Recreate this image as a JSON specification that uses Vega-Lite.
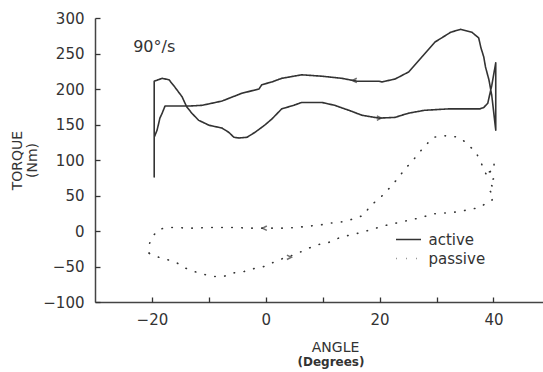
{
  "$schema": "https://vega.github.io/schema/vega-lite/v6.json",
  "width": 448,
  "height": 284,
  "autosize": {"type": "none"},
  "padding": {"left": 95, "top": 18, "right": 0, "bottom": 70},
  "background": "white",
  "config": {
    "view": {"stroke": null},
    "font": "DejaVu Sans",
    "axis": {
      "domainColor": "#444",
      "domainWidth": 1.5,
      "tickColor": "#333",
      "tickWidth": 1.3,
      "grid": false,
      "labelFont": "DejaVu Sans",
      "labelFontSize": 15,
      "labelColor": "#333",
      "titleFont": "DejaVu Sans",
      "titleColor": "#333",
      "titleFontWeight": "normal"
    }
  },
  "title": {
    "text": "(Degrees)",
    "orient": "bottom",
    "anchor": "middle",
    "fontSize": 12,
    "fontWeight": "bold",
    "color": "#333",
    "dx": 12,
    "offset": 3
  },
  "resolve": {"axis": {"x": "independent", "y": "independent"}},
  "datasets": {
    "curves": [
      {"s": "active", "i": 1, "x": -19.6, "y": 76},
      {"s": "active", "i": 2, "x": -19.6, "y": 211},
      {"s": "active", "i": 3, "x": -18.2, "y": 215},
      {"s": "active", "i": 4, "x": -17.0, "y": 213},
      {"s": "active", "i": 5, "x": -16.0, "y": 203},
      {"s": "active", "i": 6, "x": -14.7, "y": 189},
      {"s": "active", "i": 7, "x": -13.9, "y": 175},
      {"s": "active", "i": 8, "x": -13.0, "y": 166},
      {"s": "active", "i": 9, "x": -11.8, "y": 156},
      {"s": "active", "i": 10, "x": -10.0, "y": 149},
      {"s": "active", "i": 11, "x": -7.7, "y": 145},
      {"s": "active", "i": 12, "x": -6.5, "y": 139},
      {"s": "active", "i": 13, "x": -5.6, "y": 132},
      {"s": "active", "i": 14, "x": -4.7, "y": 131},
      {"s": "active", "i": 15, "x": -3.3, "y": 132},
      {"s": "active", "i": 16, "x": -1.9, "y": 139},
      {"s": "active", "i": 17, "x": -0.2, "y": 149},
      {"s": "active", "i": 18, "x": 1.1, "y": 158},
      {"s": "active", "i": 19, "x": 2.8, "y": 172},
      {"s": "active", "i": 20, "x": 4.9, "y": 177},
      {"s": "active", "i": 21, "x": 6.3, "y": 181},
      {"s": "active", "i": 22, "x": 9.9, "y": 181},
      {"s": "active", "i": 23, "x": 12.1, "y": 177},
      {"s": "active", "i": 24, "x": 14.6, "y": 170},
      {"s": "active", "i": 25, "x": 16.9, "y": 163},
      {"s": "active", "i": 26, "x": 19.9, "y": 159},
      {"s": "active", "i": 27, "x": 22.7, "y": 160},
      {"s": "active", "i": 28, "x": 25.1, "y": 166},
      {"s": "active", "i": 29, "x": 27.9, "y": 170},
      {"s": "active", "i": 30, "x": 32.1, "y": 172},
      {"s": "active", "i": 31, "x": 37.6, "y": 172},
      {"s": "active", "i": 32, "x": 38.3, "y": 174},
      {"s": "active", "i": 33, "x": 39.0, "y": 180},
      {"s": "active", "i": 34, "x": 39.7, "y": 205},
      {"s": "active", "i": 35, "x": 40.4, "y": 237},
      {"s": "active", "i": 36, "x": 40.4, "y": 142},
      {"s": "active", "i": 37, "x": 39.7, "y": 191},
      {"s": "active", "i": 38, "x": 39.2, "y": 213},
      {"s": "active", "i": 39, "x": 38.6, "y": 231},
      {"s": "active", "i": 40, "x": 38.3, "y": 245},
      {"s": "active", "i": 41, "x": 37.8, "y": 258},
      {"s": "active", "i": 42, "x": 37.4, "y": 272},
      {"s": "active", "i": 43, "x": 36.2, "y": 280},
      {"s": "active", "i": 44, "x": 34.2, "y": 284},
      {"s": "active", "i": 45, "x": 32.5, "y": 280},
      {"s": "active", "i": 46, "x": 29.7, "y": 266},
      {"s": "active", "i": 47, "x": 27.4, "y": 245},
      {"s": "active", "i": 48, "x": 25.1, "y": 224},
      {"s": "active", "i": 49, "x": 22.7, "y": 214},
      {"s": "active", "i": 50, "x": 20.4, "y": 210},
      {"s": "active", "i": 51, "x": 19.9, "y": 211},
      {"s": "active", "i": 52, "x": 16.0, "y": 211},
      {"s": "active", "i": 53, "x": 13.4, "y": 215},
      {"s": "active", "i": 54, "x": 9.9, "y": 218},
      {"s": "active", "i": 55, "x": 6.3, "y": 220},
      {"s": "active", "i": 56, "x": 2.8, "y": 215},
      {"s": "active", "i": 57, "x": 1.1, "y": 210},
      {"s": "active", "i": 58, "x": -0.7, "y": 206},
      {"s": "active", "i": 59, "x": -1.2, "y": 200},
      {"s": "active", "i": 60, "x": -4.2, "y": 194},
      {"s": "active", "i": 61, "x": -7.7, "y": 183},
      {"s": "active", "i": 62, "x": -11.2, "y": 177},
      {"s": "active", "i": 63, "x": -13.5, "y": 176},
      {"s": "active", "i": 64, "x": -16.0, "y": 176},
      {"s": "active", "i": 65, "x": -17.7, "y": 176},
      {"s": "active", "i": 66, "x": -18.2, "y": 166},
      {"s": "active", "i": 67, "x": -18.6, "y": 159},
      {"s": "active", "i": 68, "x": -18.8, "y": 152},
      {"s": "active", "i": 69, "x": -19.1, "y": 142},
      {"s": "active", "i": 70, "x": -19.6, "y": 132},
      {"s": "passive", "i": 1, "x": -20.5, "y": -31.5},
      {"s": "passive", "i": 2, "x": -18.8, "y": -37},
      {"s": "passive", "i": 3, "x": -17.0, "y": -41},
      {"s": "passive", "i": 4, "x": -15.6, "y": -45},
      {"s": "passive", "i": 5, "x": -14.2, "y": -52},
      {"s": "passive", "i": 6, "x": -12.6, "y": -57},
      {"s": "passive", "i": 7, "x": -10.9, "y": -61},
      {"s": "passive", "i": 8, "x": -9.1, "y": -64},
      {"s": "passive", "i": 9, "x": -7.4, "y": -64},
      {"s": "passive", "i": 10, "x": -5.6, "y": -59},
      {"s": "passive", "i": 11, "x": -3.8, "y": -57},
      {"s": "passive", "i": 12, "x": -2.1, "y": -53},
      {"s": "passive", "i": 13, "x": -0.3, "y": -50},
      {"s": "passive", "i": 14, "x": 1.4, "y": -44},
      {"s": "passive", "i": 15, "x": 3.2, "y": -38},
      {"s": "passive", "i": 16, "x": 4.1, "y": -36},
      {"s": "passive", "i": 17, "x": 6.0, "y": -30},
      {"s": "passive", "i": 18, "x": 7.6, "y": -24},
      {"s": "passive", "i": 19, "x": 9.3, "y": -19},
      {"s": "passive", "i": 20, "x": 11.1, "y": -16},
      {"s": "passive", "i": 21, "x": 12.8, "y": -10},
      {"s": "passive", "i": 22, "x": 14.6, "y": -6},
      {"s": "passive", "i": 23, "x": 16.3, "y": -3},
      {"s": "passive", "i": 24, "x": 18.1, "y": 1},
      {"s": "passive", "i": 25, "x": 19.8, "y": 5},
      {"s": "passive", "i": 26, "x": 21.6, "y": 9},
      {"s": "passive", "i": 27, "x": 23.4, "y": 12},
      {"s": "passive", "i": 28, "x": 25.6, "y": 16},
      {"s": "passive", "i": 29, "x": 27.4, "y": 19},
      {"s": "passive", "i": 30, "x": 29.2, "y": 24},
      {"s": "passive", "i": 31, "x": 30.9, "y": 25},
      {"s": "passive", "i": 32, "x": 32.7, "y": 26},
      {"s": "passive", "i": 33, "x": 34.4, "y": 28},
      {"s": "passive", "i": 34, "x": 36.2, "y": 31},
      {"s": "passive", "i": 35, "x": 37.6, "y": 33},
      {"s": "passive", "i": 36, "x": 39.2, "y": 42},
      {"s": "passive", "i": 37, "x": 39.7, "y": 43},
      {"s": "passive", "i": 38, "x": 40.1, "y": 50},
      {"s": "passive", "i": 39, "x": 39.3, "y": 57},
      {"s": "passive", "i": 40, "x": 40.1, "y": 60},
      {"s": "passive", "i": 41, "x": 39.2, "y": 69},
      {"s": "passive", "i": 42, "x": 40.1, "y": 74},
      {"s": "passive", "i": 43, "x": 39.2, "y": 83},
      {"s": "passive", "i": 44, "x": 40.1, "y": 86},
      {"s": "passive", "i": 45, "x": 40.1, "y": 95},
      {"s": "passive", "i": 46, "x": 39.0, "y": 76},
      {"s": "passive", "i": 47, "x": 38.3, "y": 86},
      {"s": "passive", "i": 48, "x": 37.8, "y": 97},
      {"s": "passive", "i": 49, "x": 36.9, "y": 111},
      {"s": "passive", "i": 50, "x": 35.6, "y": 121},
      {"s": "passive", "i": 51, "x": 34.2, "y": 131},
      {"s": "passive", "i": 52, "x": 32.6, "y": 134},
      {"s": "passive", "i": 53, "x": 30.9, "y": 134},
      {"s": "passive", "i": 54, "x": 29.5, "y": 132},
      {"s": "passive", "i": 55, "x": 28.1, "y": 121},
      {"s": "passive", "i": 56, "x": 26.9, "y": 110},
      {"s": "passive", "i": 57, "x": 25.7, "y": 98},
      {"s": "passive", "i": 58, "x": 24.4, "y": 87},
      {"s": "passive", "i": 59, "x": 23.4, "y": 76},
      {"s": "passive", "i": 60, "x": 22.1, "y": 64},
      {"s": "passive", "i": 61, "x": 20.9, "y": 53},
      {"s": "passive", "i": 62, "x": 19.8, "y": 45},
      {"s": "passive", "i": 63, "x": 18.3, "y": 35},
      {"s": "passive", "i": 64, "x": 17.2, "y": 22},
      {"s": "passive", "i": 65, "x": 16.0, "y": 19},
      {"s": "passive", "i": 66, "x": 14.6, "y": 15},
      {"s": "passive", "i": 67, "x": 12.8, "y": 12},
      {"s": "passive", "i": 68, "x": 11.1, "y": 11},
      {"s": "passive", "i": 69, "x": 9.3, "y": 8},
      {"s": "passive", "i": 70, "x": 7.6, "y": 7},
      {"s": "passive", "i": 71, "x": 5.5, "y": 5},
      {"s": "passive", "i": 72, "x": 3.7, "y": 4},
      {"s": "passive", "i": 73, "x": 2.3, "y": 4},
      {"s": "passive", "i": 74, "x": -0.2, "y": 4},
      {"s": "passive", "i": 75, "x": -1.9, "y": 4},
      {"s": "passive", "i": 76, "x": -3.3, "y": 4},
      {"s": "passive", "i": 77, "x": -5.1, "y": 5},
      {"s": "passive", "i": 78, "x": -6.8, "y": 5},
      {"s": "passive", "i": 79, "x": -8.6, "y": 5},
      {"s": "passive", "i": 80, "x": -10.3, "y": 5},
      {"s": "passive", "i": 81, "x": -12.1, "y": 4},
      {"s": "passive", "i": 82, "x": -13.9, "y": 4},
      {"s": "passive", "i": 83, "x": -15.6, "y": 5},
      {"s": "passive", "i": 84, "x": -17.4, "y": 5},
      {"s": "passive", "i": 85, "x": -18.8, "y": 2},
      {"s": "passive", "i": 86, "x": -19.7, "y": -6},
      {"s": "passive", "i": 87, "x": -20.4, "y": -17},
      {"s": "passive", "i": 88, "x": -20.5, "y": -31.5}
    ],
    "arrows": [
      {"x": 15.6, "y": 212, "d": "left"},
      {"x": 19.9, "y": 159, "d": "right"},
      {"x": -0.2, "y": 4, "d": "left"},
      {"x": 4.1, "y": -37, "d": "right"}
    ],
    "note": [
      {"x": -23.3, "y": 259, "t": "90°/s"}
    ]
  },
  "layer": [
    {
      "mark": {"type": "rule", "color": "#444", "strokeWidth": 1.5},
      "encoding": {"y": {"datum": 300, "type": "quantitative", "axis": null}}
    },
    {
      "data": {"name": "curves"},
      "mark": {"type": "line", "color": "#333", "strokeWidth": 1.6, "strokeCap": "round", "strokeJoin": "round"},
      "encoding": {
        "x": {
          "field": "x", "type": "quantitative",
          "scale": {"domain": [-30, 48.7], "nice": false, "zero": false},
          "axis": {
            "values": [-20, 0, 20, 40],
            "ticks": false,
            "tickSize": 0,
            "labelPadding": 10,
            "title": "ANGLE",
            "titleFontSize": 14,
            "titleX": 240,
            "titleY": 45,
            "titleBaseline": "middle"
          }
        },
        "y": {
          "field": "y", "type": "quantitative",
          "scale": {"domain": [-100, 300], "nice": false, "zero": false},
          "axis": {
            "values": [-100, -50, 0, 50, 100, 150, 200, 250, 300],
            "ticks": false,
            "tickSize": 0,
            "labelPadding": 11,
            "title": ["TORQUE", "(Nm)"],
            "titleFontSize": 14,
            "titleLineHeight": 15,
            "titleAngle": -90,
            "titleX": -78,
            "titleY": 142,
            "titleBaseline": "middle",
            "titleAlign": "center"
          }
        },
        "strokeDash": {
          "field": "s", "type": "nominal",
          "scale": {"domain": ["active", "passive"], "range": [[1, 0], [0.5, 9.5]]},
          "legend": {
            "title": null,
            "orient": "none",
            "legendX": 306,
            "legendY": 214,
            "symbolType": "M-2.5,0L2.5,0",
            "symbolSize": 100,
            "symbolStrokeWidth": 1.6,
            "symbolStrokeColor": "#333",
            "labelFontSize": 15,
            "labelColor": "#333",
            "labelOffset": 12.5,
            "rowPadding": 3
          }
        },
        "order": {"field": "i", "type": "quantitative"}
      }
    },
    {
      "data": {"name": "arrows"},
      "mark": {"type": "point", "filled": false, "color": "#333", "strokeWidth": 1.5, "size": 30},
      "encoding": {
        "x": {
          "field": "x", "type": "quantitative",
          "axis": {"orient": "top", "offset": -284, "values": [-20, -10, 0, 10, 20, 30, 40], "labels": false, "domain": false, "ticks": true, "tickSize": 5, "title": null}
        },
        "y": {
          "field": "y", "type": "quantitative",
          "axis": {"orient": "right", "offset": -448, "values": [-100, -50, 0, 50, 100, 150, 200, 250, 300], "labels": false, "domain": false, "ticks": true, "tickSize": 5, "title": null}
        },
        "shape": {
          "field": "d", "type": "nominal",
          "scale": {"domain": ["left", "right"], "range": ["M0.8,-0.8L-0.8,0L0.8,0.8", "M-0.8,-0.8L0.8,0L-0.8,0.8"]},
          "legend": null
        }
      }
    },
    {
      "data": {"name": "note"},
      "mark": {"type": "text", "align": "left", "baseline": "middle", "fontSize": 16, "color": "#333", "font": "DejaVu Sans"},
      "encoding": {
        "x": {"field": "x", "type": "quantitative", "axis": null},
        "y": {"field": "y", "type": "quantitative", "axis": null},
        "text": {"field": "t"}
      }
    }
  ]
}
